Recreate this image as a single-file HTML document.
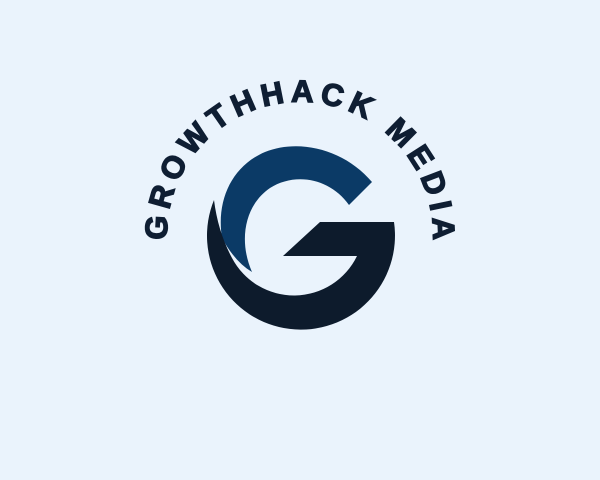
<!DOCTYPE html>
<html><head><meta charset="utf-8"><style>
html,body{margin:0;padding:0;background:#eaf3fc;}
svg{display:block}
</style></head><body>
<svg width="600" height="480" viewBox="0 0 600 480">
<rect width="600" height="480" fill="#eaf3fc"/>
<defs><path id="arc" d="M172,271 A133,133 0 1 1 428,271"/></defs>
<text font-family="Liberation Sans, sans-serif" font-weight="bold" font-size="31" fill="#0f1e33" stroke="#0f1e33" stroke-width="1.4"><textPath href="#arc" startOffset="50%" text-anchor="middle" textLength="428" lengthAdjust="spacing">GROWTHHACK MEDIA</textPath></text>
<path fill="#0b3a66" d="M372,182 C345,150 300,138 265,152 C232,166 216,200 222,238 Q235,262 252,272 C238,240 245,205 270,188 C295,172 330,178 349,205 Z"/>
<path fill="#0d1b2c" d="M214,200 A94,94 0 1 0 394,222 L320,222 L283,256 L357,256 A70,70 0 0 1 232,258 Q218,232 214,200 Z"/>
</svg>
</body></html>
